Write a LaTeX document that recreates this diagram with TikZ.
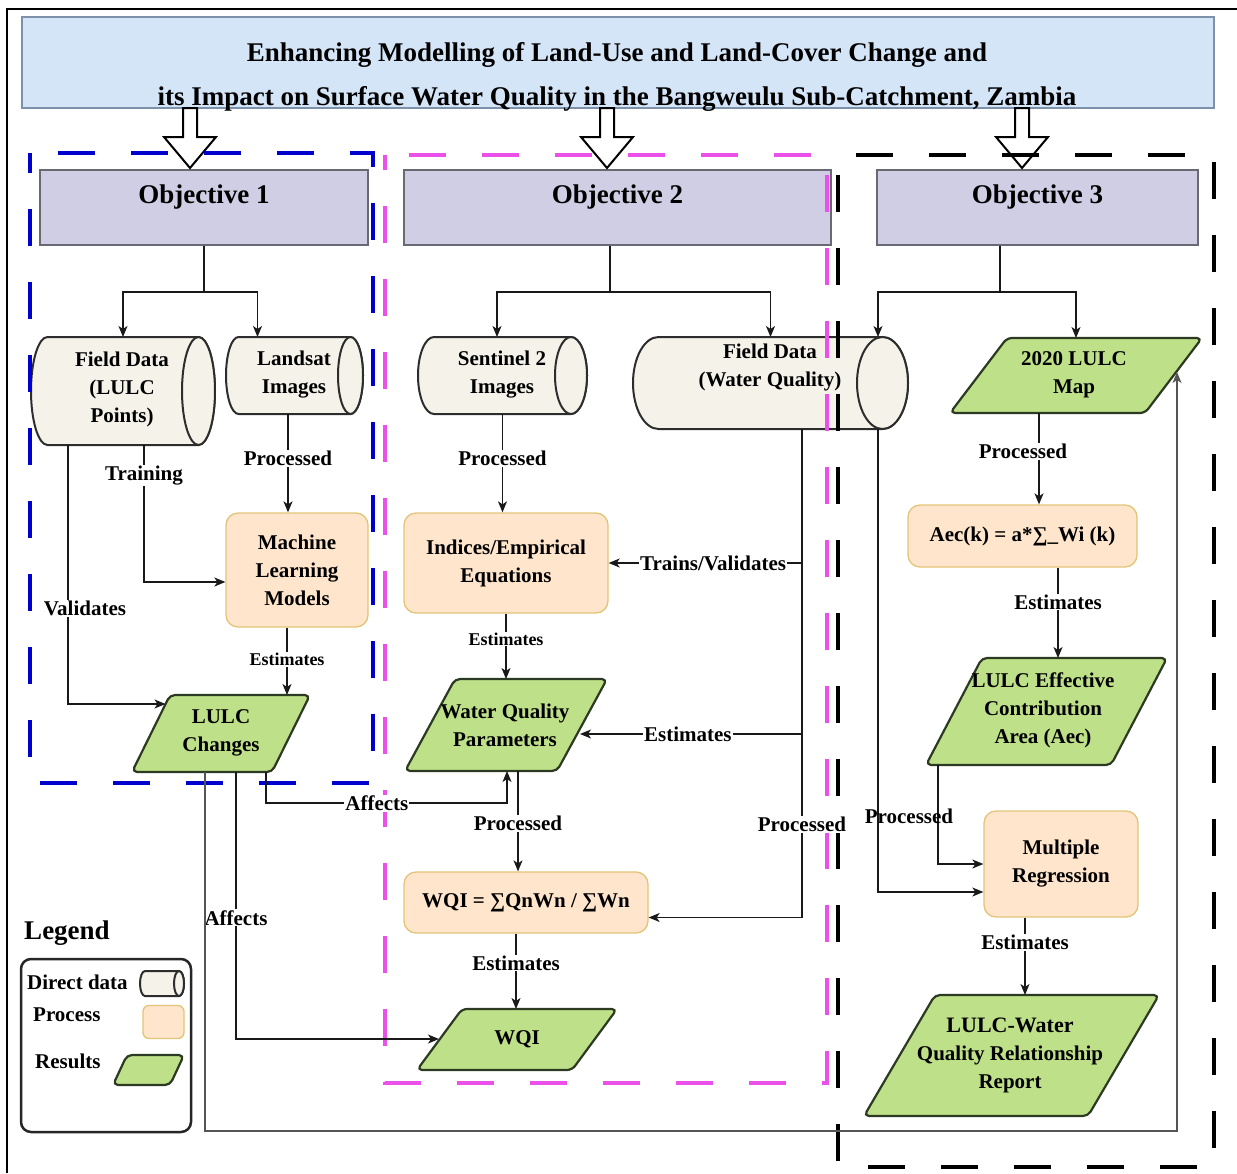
\documentclass[tikz,border=0pt]{standalone}
\usepackage{fontspec}
\setmainfont{Liberation Serif}
\usetikzlibrary{arrows.meta,calc}

\definecolor{linec}{RGB}{25,25,25}
\definecolor{loopc}{RGB}{85,85,85}
\definecolor{titlefill}{RGB}{213,229,248}
\definecolor{titleline}{RGB}{125,145,170}
\definecolor{objfill}{RGB}{208,206,228}
\definecolor{objline}{RGB}{105,105,115}
\definecolor{cylfill}{RGB}{244,242,233}
\definecolor{cylline}{RGB}{45,45,45}
\definecolor{procfill}{RGB}{255,229,204}
\definecolor{procline}{RGB}{226,196,120}
\definecolor{resfill}{RGB}{190,224,136}
\definecolor{resline}{RGB}{45,58,35}
\definecolor{fblue}{RGB}{0,0,205}
\definecolor{fmag}{RGB}{235,80,235}

% horizontal data store: name, x1, y1, x2, y2, end radius, text, text x, text y
\newcommand{\dstore}[9]{%
  \pgfmathsetmacro\dsry{(#5-#3)/2}%
  \pgfmathsetmacro\dscy{(#3+#5)/2}%
  \pgfmathsetmacro\dsxl{#2+#6}%
  \pgfmathsetmacro\dsxr{#4-#6}%
  \filldraw[cylsty] (\dsxl,#3) -- (\dsxr,#3)
     arc[start angle=90,end angle=-90,x radius=#6pt,y radius=\dsry pt]
     -- (\dsxl,#5)
     arc[start angle=270,end angle=90,x radius=#6pt,y radius=\dsry pt] -- cycle;
  \filldraw[cylsty] (\dsxr,\dscy) ellipse[x radius=#6pt,y radius=\dsry pt];
  \node[bbox,minimum width={(#4-#2)*1pt},minimum height={(#5-#3)*1pt}] (#1) at ({(#2+#4)/2},\dscy) {};
  \node[align=center] (#1-t) at (#8,#9) {#7};
}

% result parallelogram: name, bottom-left x, bottom y, top-left x, top y, width, text, text x, text y
\newcommand{\resultshape}[9]{%
  \draw[ressty] (#2,#3) -- (#4,#5) -- ({#4+#6},#5) -- ({#2+#6},#3) -- cycle;
  \node[bbox,minimum width={(#4+#6-#2)*1pt},minimum height={(#3-#5)*1pt}] (#1) at ({(#2+#4+#6)/2},{(#3+#5)/2}) {};
  \node[align=center] (#1-t) at (#8,#9) {#7};
}

% hollow block arrow from the title down to an objective
\newcommand{\blockarrow}[1]{%
  \draw[barrow] ({#1-7},108) -- ({#1+7},108) -- ({#1+7},137) -- ({#1+26},137)
     -- (#1,168) -- ({#1-26},137) -- ({#1-7},137) -- cycle;
}

\begin{document}
\begin{tikzpicture}[x=1pt,y=-1pt,
  every node/.style={font=\bfseries\fontsize{21}{28}\selectfont,text=black},
  bbox/.style={rectangle,inner sep=0pt,outer sep=0pt},
  conn/.style={draw=linec,line width=1.3pt},
  arr/.style={conn,-{Stealth[length=11pt,width=9pt,inset=3pt]}},
  looparr/.style={draw=loopc,line width=1.6pt,-{Stealth[length=11pt,width=9pt,inset=3pt]}},
  lbl/.style={fill=white,inner sep=1pt},
  small/.style={font=\bfseries\fontsize{18}{22}\selectfont},
  titletext/.style={font=\bfseries\fontsize{27}{32}\selectfont},
  objtext/.style={font=\bfseries\fontsize{27}{32}\selectfont},
  titlebox/.style={rectangle,draw=titleline,fill=titlefill,line width=1.2pt},
  objbox/.style={rectangle,draw=objline,fill=objfill,line width=1.4pt},
  procbox/.style={rectangle,draw=procline,fill=procfill,line width=1.3pt,rounded corners=12pt,align=center},
  cylsty/.style={draw=cylline,fill=cylfill,line width=2pt},
  ressty/.style={draw=resline,fill=resfill,line width=2.2pt,rounded corners=5pt,line join=round},
  barrow/.style={draw=black,fill=white,line width=2pt,line join=miter},
  frameblue/.style={draw=fblue,line width=4pt,dash pattern=on 37pt off 36pt,dash phase=45pt},
  framemag/.style={draw=fmag,line width=4pt,dash pattern=on 37pt off 36pt,dash phase=49pt},
  frameblack/.style={draw=black,line width=4pt,dash pattern=on 37pt off 36pt,dash phase=55pt},
  legbox/.style={rectangle,draw=black!85,line width=2.5pt,rounded corners=10pt},
]
\useasboundingbox (0,0) rectangle (1237,1173);

% ---------- title ----------
\node[titlebox,minimum width=1192pt,minimum height=91pt] (title) at (618,62.5) {};
\node[titletext,anchor=base] (title-l1) at (617,61) {Enhancing Modelling of Land-Use and Land-Cover Change and};
\node[titletext,anchor=base] (title-l2) at (617,105) {its Impact on Surface Water Quality in the Bangweulu Sub-Catchment, Zambia};

% ---------- objectives ----------
\node[objbox,minimum width=328pt,minimum height=75pt] (obj1) at (204,207.5) {};
\node[objbox,minimum width=427pt,minimum height=75pt] (obj2) at (617.5,207.5) {};
\node[objbox,minimum width=321pt,minimum height=75pt] (obj3) at (1037.5,207.5) {};
\node[objtext] (obj1-t) at (204,197) {Objective 1};
\node[objtext] (obj2-t) at (617.5,197) {Objective 2};
\node[objtext] (obj3-t) at (1037.5,197) {Objective 3};

\blockarrow{190}
\blockarrow{607}
\blockarrow{1022}

% ---------- objective 1 ----------
\dstore{fdl}{31}{337}{215}{445}{16.5}{Field Data\\(LULC\\Points)}{122}{389}
\dstore{ls}{226}{337}{363}{414}{12.5}{Landsat\\Images}{294}{375}
\node[procbox,minimum width=142pt,minimum height=114pt] (ml) at (297,570) {Machine\\Learning\\Models};
\resultshape{lc}{132}{772}{170}{695}{140}{LULC\\Changes}{221}{733}

% ---------- objective 2 ----------
\dstore{s2}{418}{337}{587}{414}{16}{Sentinel 2\\Images}{502}{375}
\dstore{fdw}{633}{337}{908}{429}{25.5}{Field Data\\(Water Quality)}{770}{367}
\node[procbox,minimum width=204pt,minimum height=100pt] (ind) at (506,563) {Indices/Empirical\\Equations};
\resultshape{wqp}{405}{771}{455}{679}{152}{\fontsize{21}{26}\selectfont Water Quality\\Parameters}{505}{725}
\node[procbox,minimum width=244pt,minimum height=61pt] (wqf) at (526,902.5) {WQI = ∑QnWn / ∑Wn};
\resultshape{wqi}{417}{1070}{462}{1009}{155}{WQI}{517}{1039}

% ---------- objective 3 ----------
\resultshape{map}{950}{413}{1007}{338}{195}{2020 LULC\\Map}{1074}{375}
\node[procbox,minimum width=229pt,minimum height=62pt] (aec) at (1022.5,536) {Aec(k) = a*∑\_Wi (k)};
\resultshape{eca}{926}{765}{982}{658}{185}{LULC Effective\\Contribution\\Area (Aec)}{1043}{710}
\node[procbox,minimum width=154pt,minimum height=106pt] (mr) at (1061,864) {Multiple\\Regression};
\resultshape{rep}{864}{1116}{935}{995}{224}{\fontsize{22}{23}\selectfont LULC-Water\\Quality Relationship\\Report}{1010}{1055}

% ---------- dashed objective frames ----------
\draw[frameblue] (30,153) -- (373,153) -- (373,783) -- (30,783) -- cycle;
\draw[framemag] (385,155) -- (827,155) -- (827,1083) -- (385,1083) -- cycle;
\draw[frameblack] (838,155) -- (1214,155) -- (1214,1167) -- (838,1167) -- cycle;

% ---------- junctions and entry points ----------
\coordinate (j1) at (204,292);
\coordinate (j2) at (610,292);
\coordinate (j3) at (1000,292);
\coordinate (lcin) at (165.5,704);
\coordinate (wqpin) at (580,734);
\coordinate (wqiin) at (439,1039);
\coordinate (lpb) at (1177,1131);
\coordinate (mapin) at (1177,372);

% ---------- connectors: objective 1 ----------
\draw[conn] (obj1.south) -- (j1);
\draw[arr] (j1) -| (fdl.north);
\draw[arr] (j1) -| ([xshift=-37pt]ls.north);
\draw[arr] ([xshift=-6.5pt]ls.south) -- ([xshift=-9pt]ml.north)
  node[lbl,pos=0.45] (e-ls) {Processed};
\draw[arr] ([xshift=21pt]fdl.south) |- ([yshift=-12pt]ml.west)
  node[lbl,pos=0.11] (e-tr) {Training};
\draw[arr] ([xshift=-55pt]fdl.south) |- (lcin)
  node[lbl,pos=0.315,xshift=17pt] (e-va) {Validates};
\draw[arr] ([xshift=-10pt]ml.south) -- ([xshift=66pt]lc.north)
  node[lbl,small,pos=0.47] (e-ml) {Estimates};

% ---------- connectors: objective 2 ----------
\draw[conn] (obj2.south -| j2) -- (j2);
\draw[arr] (j2) -| ([xshift=-5.5pt]s2.north);
\draw[arr] (j2) -| (fdw.north);
\draw[arr] (s2.south) -- (s2.south |- ind.north)
  node[lbl,pos=0.45] (e-s2) {Processed};
\draw[arr] (ind.south) -- (ind.south |- wqp.north)
  node[lbl,small,pos=0.39] (e-ind) {Estimates};
\draw[arr] ([xshift=31.5pt]fdw.south) |- (ind.east)
  node[lbl,pos=0.73] (e-tv) {Trains/Validates};
\draw[arr] ([xshift=31.5pt]fdw.south) |- (wqpin)
  node[lbl,pos=0.757] (e-fe) {Estimates};
\draw[arr] ([xshift=31.5pt]fdw.south) |- ([yshift=-15pt]wqf.east)
  node[lbl,pos=0.405] (e-fp) {Processed};
\draw[arr] ([xshift=12pt]wqp.south) -- ([xshift=12pt]wqp.south |- wqf.north)
  node[lbl,pos=0.52] (e-wqp) {Processed};
\draw[arr] ([xshift=-10pt]wqf.south) -- ([xshift=-10pt]wqf.south |- wqi.north)
  node[lbl,pos=0.39] (e-wqf) {Estimates};

% ---------- effects of land-cover change ----------
\draw[arr] ([xshift=45pt]lc.south) -- ++(0,31) -| ([xshift=1pt]wqp.south)
  node[lbl,pos=0.23] (e-af1) {Affects};
\draw[arr] ([xshift=15pt]lc.south) |- (wqiin)
  node[lbl,pos=0.273] (e-af2) {Affects};
\draw[looparr] ([xshift=-16pt]lc.south) |- (lpb) -- (mapin);

% ---------- connectors: objective 3 ----------
\draw[conn] (obj3.south -| j3) -- (j3);
\draw[arr] (j3) -| ([xshift=107.5pt]fdw.north);
\draw[arr] (j3) -| (map.north);
\draw[arr] ([xshift=-37pt]map.south) -- ([xshift=-37pt]map.south |- aec.north)
  node[lbl,pos=0.42,xshift=-16pt] (e-map) {Processed};
\draw[arr] ([xshift=35.5pt]aec.south) -- ([xshift=35.5pt]aec.south |- eca.north)
  node[lbl,pos=0.38] (e-aec) {Estimates};
\draw[arr] ([xshift=107.5pt]fdw.south) |- ([yshift=-28pt]mr.west);
\draw[arr] ([xshift=-108.5pt]eca.south) |- (mr.west)
  node[pos=0.26,xshift=-29pt,inner sep=0pt] (e-eca) {Processed};
\draw[arr] ([xshift=-36pt]mr.south) -- ([xshift=-36pt]mr.south |- rep.north)
  node[lbl,pos=0.32] (e-mr) {Estimates};

% ---------- legend ----------
\node[font=\bfseries\fontsize{27}{32}\selectfont] (leg-title) at (67,933) {Legend};
\node[legbox,minimum width=170pt,minimum height=173pt] (leg) at (106,1045.5) {};
\node[anchor=west,inner sep=0pt] (leg-l1) at (27,982) {Direct data};
\dstore{legcyl}{140}{971}{184}{996}{5}{}{162}{983.5}
\node[anchor=west,inner sep=0pt] (leg-l2) at (33,1015) {Process};
\node[procbox,minimum width=41pt,minimum height=33pt,rounded corners=6pt] (legproc) at (163.5,1022) {};
\node[anchor=west,inner sep=0pt] (leg-l3) at (35,1061) {Results};
\resultshape{legres}{113}{1085}{127}{1055}{57}{}{148}{1070}

% ---------- outer frame ----------
\draw[line width=2.2pt] (7,1173) -- (7,9) -- (1237,9);
\end{tikzpicture}
\end{document}
